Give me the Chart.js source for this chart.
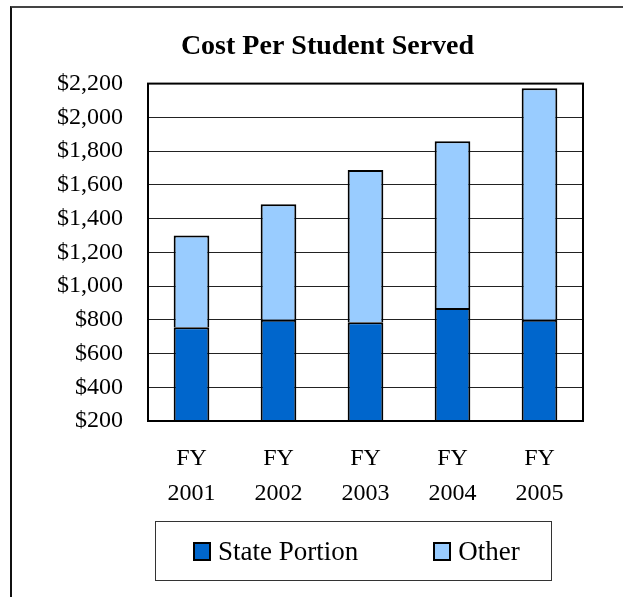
<!DOCTYPE html>
<html>
<head>
<meta charset="utf-8">
<script src="https://cdn.jsdelivr.net/npm/chart.js@4.4.1/dist/chart.umd.min.js"></script>
<style>
  html, body { margin: 0; padding: 0; background: #fff; overflow: hidden; }
  #wrap { position: relative; width: 623px; height: 597px; }
  #frame { position: absolute; left: 10px; top: 6px; width: 700px; height: 700px; border-top: 2px solid #444; border-left: 2px solid #111; }
  canvas { position: absolute; left: 0; top: 0; }
  #legend {
    position: absolute; left: 155px; top: 521px; width: 397px; height: 60px;
    box-sizing: border-box; border: 1px solid #333;
    display: flex; align-items: center; padding-left: 37px; gap: 75px;
    font: 27px 'Liberation Serif', 'Times New Roman', serif; color: #000;
  }
  .item { display: flex; align-items: center; }
  .swatch { width: 18px; height: 19px; box-sizing: border-box; border: 2px solid #000; margin-right: 7px; }
</style>
</head>
<body>
<div id="wrap">
  <div id="frame"></div>
  <canvas id="chart" width="623" height="597"></canvas>
  <div id="legend"></div>
</div>
<script>
const years = ['2001', '2002', '2003', '2004', '2005']
const statePortion = [755, 800, 785, 870, 800]
const otherCost = [545, 685, 903, 988, 1372]
const yTicks = [200, 400, 600, 800, 1000, 1200, 1400, 1600, 1800, 2000, 2200]

const serif = "'Liberation Serif', 'Times New Roman', serif"

// box round the plot area (top and right sides have no axis)
const areaBorder = {
  id: 'areaBorder',
  afterDatasetsDraw(chart) {
    const { ctx, chartArea: a } = chart
    ctx.save()
    ctx.strokeStyle = '#000'
    ctx.lineWidth = 2
    ctx.strokeRect(a.left, a.top, a.right - a.left, a.bottom - a.top)
    ctx.restore()
  }
}

// the title sits a little right of the full-width centre
const titleShift = {
  id: 'titleShift',
  afterLayout(chart) {
    chart.titleBlock.left += 16
    chart.titleBlock.right += 16
  }
}

// legend built from the chart's own legend items, drawn as html
const htmlLegend = {
  id: 'htmlLegend',
  afterUpdate(chart) {
    const box = document.getElementById('legend')
    box.innerHTML = ''
    chart.options.plugins.legend.labels.generateLabels(chart).forEach(item => {
      const el = document.createElement('span')
      el.className = 'item'
      const sw = document.createElement('span')
      sw.className = 'swatch'
      sw.style.background = item.fillStyle
      el.appendChild(sw)
      el.appendChild(document.createTextNode(item.text))
      box.appendChild(el)
    })
  }
}

new Chart(document.getElementById('chart'), {
  type: 'bar',
  data: {
    labels: years.map(y => ['FY', y]),
    datasets: [
      {
        label: 'State Portion',
        data: statePortion,
        backgroundColor: '#0066CC',
        borderColor: '#000',
        borderWidth: 2,
        categoryPercentage: 1,
        barPercentage: 0.41
      },
      {
        label: 'Other',
        data: otherCost,
        backgroundColor: '#99CCFF',
        borderColor: '#000',
        borderWidth: 2,
        categoryPercentage: 1,
        barPercentage: 0.41
      }
    ]
  },
  options: {
    responsive: false,
    animation: false,
    layout: { padding: { left: 40, right: 40, top: 0, bottom: 86 } },
    plugins: {
      legend: { display: false },
      tooltip: { enabled: false },
      title: {
        display: true,
        text: 'Cost Per Student Served',
        color: '#000',
        font: { family: serif, size: 28, weight: 'bold', lineHeight: 1.2 },
        padding: { top: 30, bottom: 20 }
      }
    },
    scales: {
      x: {
        stacked: true,
        grid: { display: false, drawTicks: false },
        border: { display: false },
        ticks: {
          color: '#000',
          maxRotation: 0,
          padding: 20,
          font: { family: serif, size: 24, lineHeight: 35 / 24 }
        },
        afterFit(s) { s.height = 90 }
      },
      y: {
        stacked: true,
        min: 200,
        max: 2200,
        grid: { color: '#222', lineWidth: 1, drawTicks: false },
        border: { display: false },
        ticks: {
          color: '#000',
          padding: 25,
          font: { family: serif, size: 24 },
          callback: v => '$' + v.toLocaleString('en-US')
        },
        afterBuildTicks(s) { s.ticks = yTicks.map(v => ({ value: v })) },
        afterFit(s) { s.width = 108 }
      }
    }
  },
  plugins: [areaBorder, titleShift, htmlLegend]
})
</script>
</body>
</html>
